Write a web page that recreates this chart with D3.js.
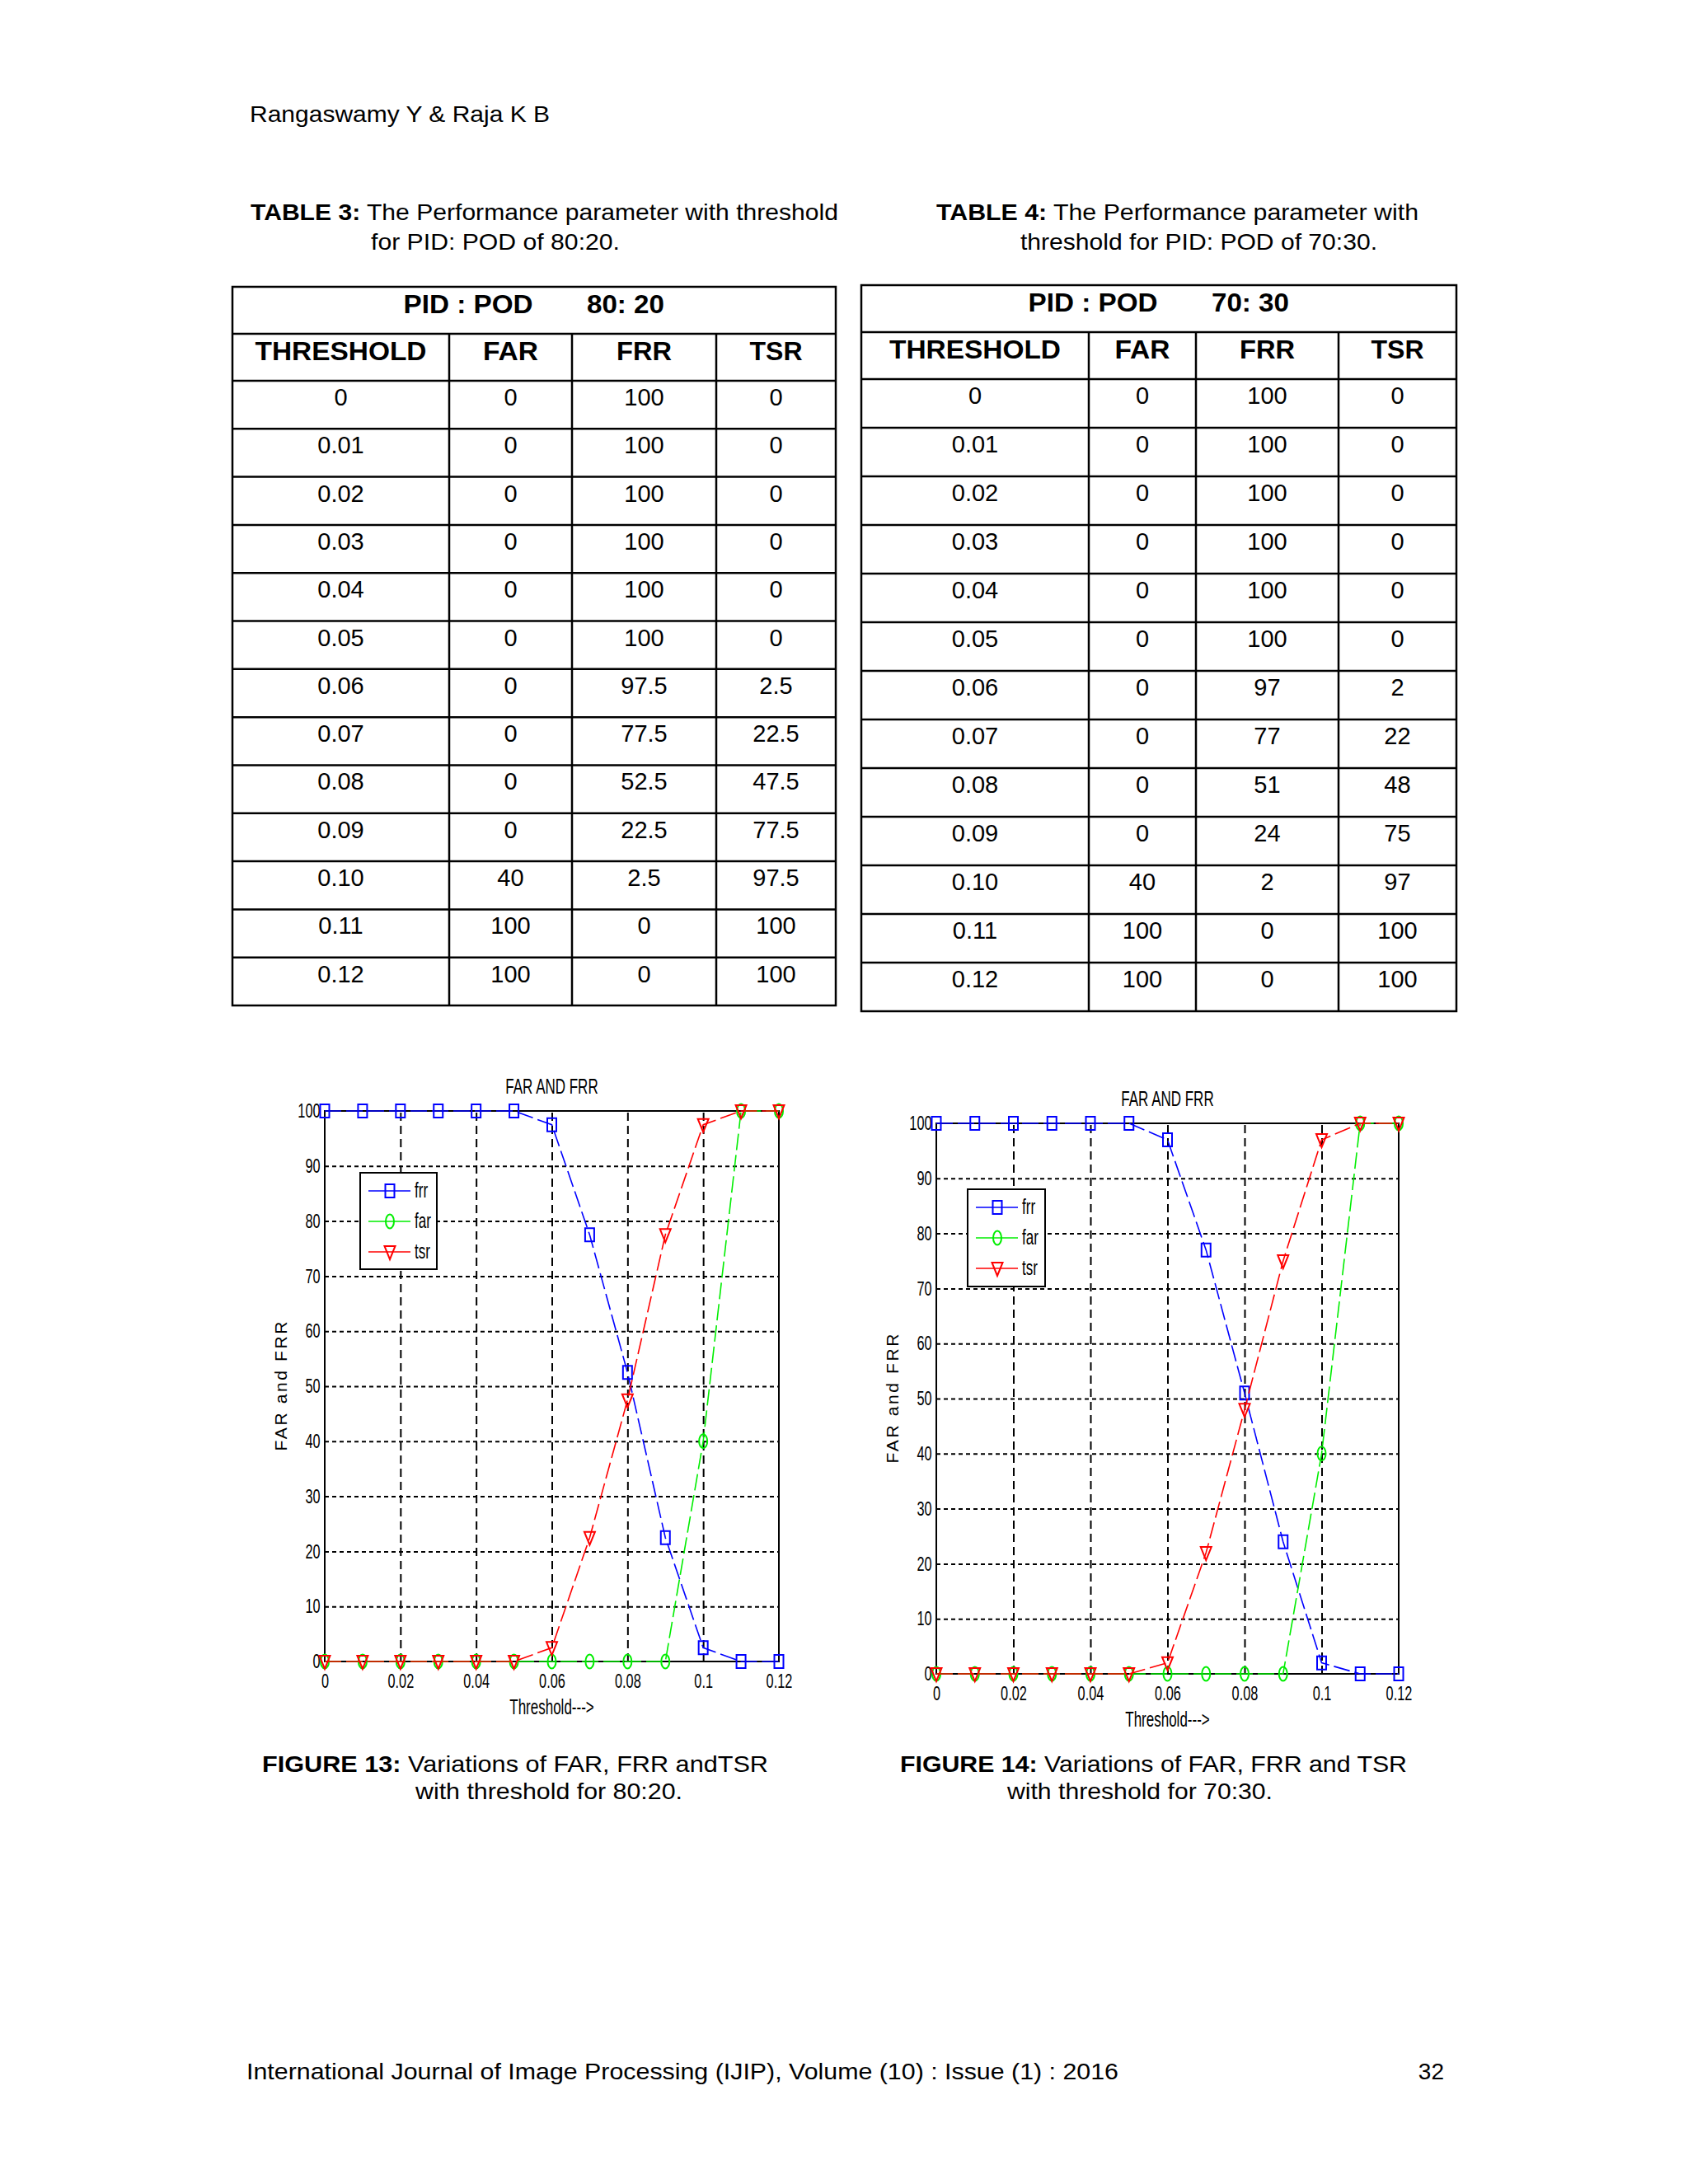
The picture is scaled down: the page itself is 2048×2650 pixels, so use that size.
<!DOCTYPE html>
<html>
<head>
<meta charset="utf-8">
<script src="https://cdn.jsdelivr.net/npm/d3@7"></script>
<style>
  body { margin: 0; background: #fff; }
  svg { display: block; }
  text { font-family: "Liberation Sans", Arial, Helvetica, sans-serif; fill: #000; }
</style>
</head>
<body>
<div id="page"></div>
<script>
// ---- data read from the page ----
const thresholds = [0, 0.01, 0.02, 0.03, 0.04, 0.05, 0.06, 0.07, 0.08, 0.09, 0.10, 0.11, 0.12];
const thresholdLabels = ["0", "0.01", "0.02", "0.03", "0.04", "0.05", "0.06", "0.07", "0.08", "0.09", "0.10", "0.11", "0.12"];
const columnNames = ["THRESHOLD", "FAR", "FRR", "TSR"];

// Table 3 / Figure 13, PID:POD 80:20
const far8020 = [0, 0, 0, 0, 0, 0, 0, 0, 0, 0, 40, 100, 100];
const frr8020 = [100, 100, 100, 100, 100, 100, 97.5, 77.5, 52.5, 22.5, 2.5, 0, 0];
const tsr8020 = [0, 0, 0, 0, 0, 0, 2.5, 22.5, 47.5, 77.5, 97.5, 100, 100];

// Table 4 / Figure 14, PID:POD 70:30
const far7030 = [0, 0, 0, 0, 0, 0, 0, 0, 0, 0, 40, 100, 100];
const frr7030 = [100, 100, 100, 100, 100, 100, 97, 77, 51, 24, 2, 0, 0];
const tsr7030 = [0, 0, 0, 0, 0, 0, 2, 22, 48, 75, 97, 100, 100];

const xTicks = [0, 0.02, 0.04, 0.06, 0.08, 0.1, 0.12];
const xTickLabels = ["0", "0.02", "0.04", "0.06", "0.08", "0.1", "0.12"];
const yTicks = [0, 10, 20, 30, 40, 50, 60, 70, 80, 90, 100];
const seriesNames = ["frr", "far", "tsr"];

// ---- page ----
const W = 2048, H = 2650;
const svg = d3.select("#page").append("svg")
    .attr("width", W).attr("height", H)
    .attr("viewBox", `0 0 ${W} ${H}`);
svg.append("rect").attr("width", W).attr("height", H).attr("fill", "#fff");

function fitText(parent, x, y, parts, size, len, anchor = "start") {
    const t = parent.append("text")
        .attr("x", x).attr("y", y)
        .attr("font-size", size)
        .attr("text-anchor", anchor);
    if (len) t.attr("textLength", len).attr("lengthAdjust", "spacingAndGlyphs");
    parts.forEach(p => {
        t.append("tspan").attr("font-weight", p.bold ? "bold" : "normal").text(p.t);
    });
    return t;
}

// header + footer
fitText(svg, 303, 148, [{ t: "Rangaswamy Y & Raja K B" }], 28, 364);
fitText(svg, 299, 2523, [{ t: "International Journal of Image Processing (IJIP), Volume (10) : Issue (1) : 2016" }], 28, 1058);
fitText(svg, 1752, 2523, [{ t: "32" }], 28, null, "end");

// table captions
fitText(svg, 304, 267, [{ t: "TABLE 3:", bold: true }, { t: " The Performance parameter with threshold" }], 28, 713);
fitText(svg, 450, 303, [{ t: "for PID: POD of 80:20." }], 28, 302);
fitText(svg, 1136, 267, [{ t: "TABLE 4:", bold: true }, { t: " The Performance parameter with" }], 28, 585);
fitText(svg, 1238, 303, [{ t: "threshold for PID: POD of 70:30." }], 28, 433);

// figure captions
fitText(svg, 318, 2150, [{ t: "FIGURE 13:", bold: true }, { t: " Variations of FAR, FRR andTSR" }], 28, 614);
fitText(svg, 504, 2183, [{ t: "with threshold for 80:20." }], 28, 324);
fitText(svg, 1092, 2150, [{ t: "FIGURE 14:", bold: true }, { t: " Variations of FAR, FRR and TSR" }], 28, 615);
fitText(svg, 1222, 2183, [{ t: "with threshold for 70:30." }], 28, 322);

// ---- tables ----
function drawTable(cfg, ratio, far, frr, tsr) {
    const g = svg.append("g");
    const edges = [cfg.left, ...cfg.dividers, cfg.right];
    const rowH = (cfg.bottom - cfg.colTop2) / thresholds.length;
    const rowY = d3.range(thresholds.length + 1).map(i => cfg.colTop2 + i * rowH);
    const line = (x1, y1, x2, y2) => g.append("line")
        .attr("x1", x1).attr("y1", y1).attr("x2", x2).attr("y2", y2)
        .attr("stroke", "#000").attr("stroke-width", 2.5);

    g.append("rect").attr("x", cfg.left).attr("y", cfg.top)
        .attr("width", cfg.right - cfg.left).attr("height", cfg.bottom - cfg.top)
        .attr("fill", "none").attr("stroke", "#000").attr("stroke-width", 2.5);
    line(cfg.left, cfg.colTop, cfg.right, cfg.colTop);
    rowY.slice(0, -1).forEach(y => line(cfg.left, y, cfg.right, y));
    cfg.dividers.forEach(x => line(x, cfg.colTop, x, cfg.bottom));

    const mid = (cfg.left + cfg.right) / 2;
    fitText(g, mid - 80, cfg.top + 32, [{ t: "PID : POD", bold: true }], 31, 157, "middle");
    fitText(g, mid + 111, cfg.top + 32, [{ t: ratio, bold: true }], 31, 94, "middle");

    const centers = edges.slice(1).map((e, i) => (e + edges[i]) / 2);
    const headLen = [208, 67, 67, 64];
    columnNames.forEach((c, i) => {
        fitText(g, centers[i], cfg.colTop + 32, [{ t: c, bold: true }], 32, headLen[i], "middle");
    });

    thresholds.forEach((t, r) => {
        const vals = [thresholdLabels[r], far[r], frr[r], tsr[r]];
        vals.forEach((v, c) => {
            g.append("text").attr("x", centers[c]).attr("y", rowY[r] + 30)
                .attr("text-anchor", "middle").attr("font-size", 29)
                .text(v);
        });
    });
}

drawTable({ left: 282, right: 1014, top: 348, colTop: 405, colTop2: 462, bottom: 1220,
            dividers: [545, 694, 869] }, "80: 20", far8020, frr8020, tsr8020);
drawTable({ left: 1045, right: 1767, top: 346, colTop: 403, colTop2: 460, bottom: 1227,
            dividers: [1321, 1451, 1624] }, "70: 30", far7030, frr7030, tsr7030);

// ---- charts ----
const SX = 0.68; // the matlab figure is squeezed horizontally
const colors = { frr: "#0000ff", far: "#00ee00", tsr: "#ff0000" };

function marker(g, kind, x, y) {
    const m = g.append("path")
        .attr("transform", `translate(${x},${y})`)
        .attr("fill", "none").attr("stroke", colors[kind]).attr("stroke-width", 2);
    if (kind === "frr") m.attr("d", "M-5.5,-8H5.5V8H-5.5Z");
    else if (kind === "far") m.attr("d", "M-5,0A5,8.5 0 1 0 5,0A5,8.5 0 1 0 -5,0Z");
    else m.attr("d", "M-6.5,-7H6.5L0,9Z");
}

function condText(g, x, y, str, size, anchor) {
    g.append("text")
        .attr("transform", `translate(${x},${y}) scale(${SX},1)`)
        .attr("text-anchor", anchor).attr("font-size", size)
        .text(str);
}

function drawChart(cfg, series) {
    const g = svg.append("g");
    const x = d3.scaleLinear().domain([0, 0.12]).range([cfg.x0, cfg.x1]);
    const y = d3.scaleLinear().domain([0, 100]).range([cfg.y0, cfg.y1]);

    // grid
    g.append("g").attr("transform", `translate(0,${cfg.y0})`)
        .call(d3.axisBottom(x).tickValues(xTicks.slice(1, -1)).tickSize(-(cfg.y0 - cfg.y1)).tickFormat(""))
        .call(a => a.select(".domain").remove())
        .selectAll("line").attr("stroke", "#000").attr("stroke-width", 2).attr("stroke-dasharray", "10 6");
    g.append("g").attr("transform", `translate(${cfg.x0},0)`)
        .call(d3.axisLeft(y).tickValues(yTicks.slice(1, -1)).tickSize(-(cfg.x1 - cfg.x0)).tickFormat(""))
        .call(a => a.select(".domain").remove())
        .selectAll("line").attr("stroke", "#000").attr("stroke-width", 2).attr("stroke-dasharray", "5 4");

    // box
    g.append("rect").attr("x", cfg.x0).attr("y", cfg.y1)
        .attr("width", cfg.x1 - cfg.x0).attr("height", cfg.y0 - cfg.y1)
        .attr("fill", "none").attr("stroke", "#000").attr("stroke-width", 2);

    // tick labels
    const xa = g.append("g").attr("transform", `translate(0,${cfg.y0})`)
        .call(d3.axisBottom(x).tickValues(xTicks).tickSize(0).tickPadding(15)
            .tickFormat((d, i) => xTickLabels[i]));
    xa.select(".domain").remove();
    xa.selectAll("text").attr("font-size", 24).attr("fill", "#000")
        .attr("font-family", '"Liberation Sans", Arial, sans-serif')
        .attr("transform", `scale(${SX},1)`);
    const ya = g.append("g").attr("transform", `translate(${cfg.x0},0)`)
        .call(d3.axisLeft(y).tickValues(yTicks).tickSize(0).tickPadding(8));
    ya.select(".domain").remove();
    ya.selectAll("text").attr("font-size", 24).attr("fill", "#000")
        .attr("font-family", '"Liberation Sans", Arial, sans-serif')
        .attr("transform", `scale(${SX},1)`);

    // title and axis labels
    condText(g, (cfg.x0 + cfg.x1) / 2, cfg.titleY, "FAR AND FRR", 25, "middle");
    condText(g, (cfg.x0 + cfg.x1) / 2, cfg.xlabY, "Threshold--->", 25, "middle");
    g.append("text")
        .attr("transform", `translate(${cfg.x0 - 46},${(cfg.y0 + cfg.y1) / 2}) rotate(-90)`)
        .attr("text-anchor", "middle").attr("font-size", 21)
        .attr("textLength", 157).attr("lengthAdjust", "spacing")
        .text("FAR and FRR");

    // series
    const line = d3.line().x((d, i) => x(thresholds[i])).y(d => y(d));
    seriesNames.forEach(name => {
        g.append("path").datum(series[name])
            .attr("d", line)
            .attr("fill", "none").attr("stroke", colors[name]).attr("stroke-width", 1.6)
            .attr("stroke-dasharray", "20 6");
        series[name].forEach((v, i) => marker(g, name, x(thresholds[i]), y(v)));
    });

    // legend
    const L = cfg.legend;
    const lg = g.append("g");
    lg.append("rect").attr("x", L.x).attr("y", L.y).attr("width", L.w).attr("height", L.h)
        .attr("fill", "#fff").attr("stroke", "#000").attr("stroke-width", 2);
    seriesNames.forEach((name, i) => {
        const yy = L.y + 22 + i * 37;
        lg.append("line").attr("x1", L.x + 10).attr("x2", L.x + 61).attr("y1", yy).attr("y2", yy)
            .attr("stroke", colors[name]).attr("stroke-width", 1.6);
        marker(lg, name, L.x + 36, yy);
        condText(lg, L.x + 66, yy + 8, name, 25, "start");
    });
}

drawChart({ x0: 394, x1: 945, y0: 2016, y1: 1348, titleY: 1327, xlabY: 2080,
            legend: { x: 437, y: 1423, w: 93, h: 117 } },
          { frr: frr8020, far: far8020, tsr: tsr8020 });
drawChart({ x0: 1136, x1: 1697, y0: 2031, y1: 1363, titleY: 1342, xlabY: 2095,
            legend: { x: 1174, y: 1443, w: 94, h: 118 } },
          { frr: frr7030, far: far7030, tsr: tsr7030 });
</script>
</body>
</html>
